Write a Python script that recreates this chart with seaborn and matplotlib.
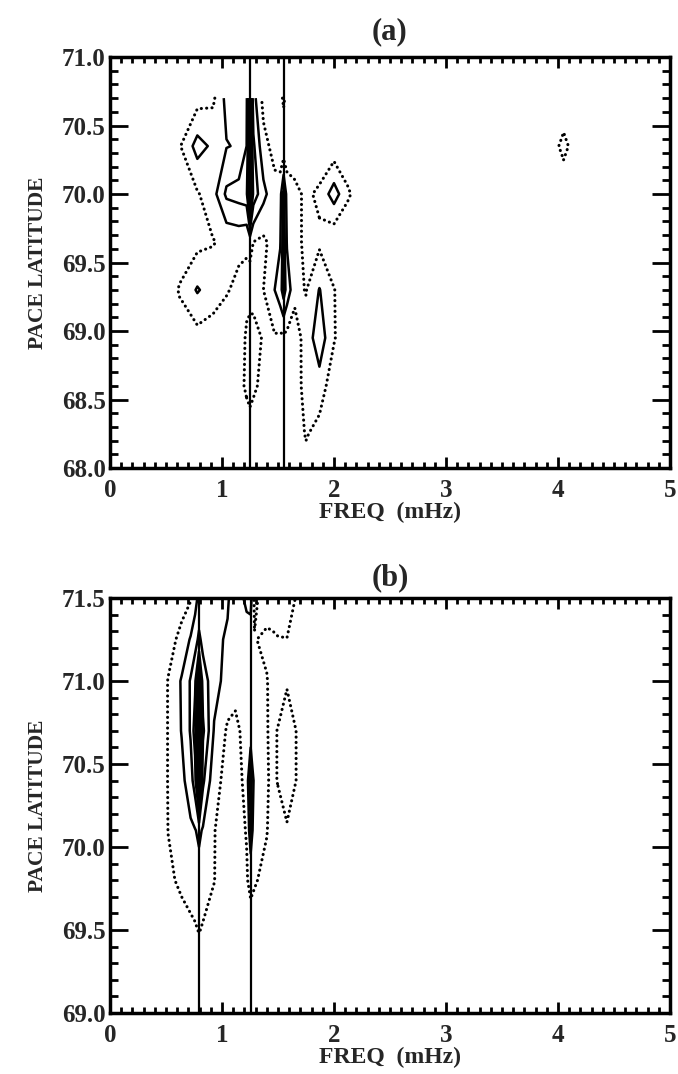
import matplotlib
matplotlib.use("Agg")
import matplotlib.pyplot as plt
import numpy as np
import seaborn as sns
from matplotlib.ticker import MultipleLocator, FormatStrFormatter

# ---- panel (a): power on a freq x latitude grid (rows = latitude) ----
freq_a = [0.0, 0.5, 0.62, 0.78, 0.92, 1.04, 1.15, 1.22, 1.25, 1.28, 1.37, 1.47, 1.52,
          1.55, 1.58, 1.65, 1.75, 1.87, 2.0, 2.12, 2.3, 3.9, 4.05, 4.2, 5.0]
lat_a = [67.9, 68.25, 68.6, 68.95, 69.3, 69.65, 70.0, 70.35, 70.7]
power_a_679 = [0, 0, 0, 0, 0, 0, 0, 0, 0, 0, 0, 0, 0, 0, 0, 0, 0.4, 0, 0, 0, 0, 0, 0, 0, 0]
power_a_6825 = [0, 0, 0, 0, 0, 0, 0, 0.4, 0.5, 0.4, 0, 0, 0, 0, 0, 0.3, 1.1, 0.6, 0, 0, 0, 0, 0, 0, 0]
power_a_686 = [0, 0, 0, 0, 0, 0, 0.6, 1.2, 1.4, 1.2, 0.7, 0.2, 0.1, 0.1, 0.1, 0.6, 1.3, 1.6, 0.3, 0, 0, 0, 0, 0, 0]
power_a_6895 = [0, 0, 0.4, 0.6, 0.5, 0.3, 0.6, 1.1, 1.3, 1.2, 0.95, 0.9, 0.8, 0.8, 0.7, 0.5, 1.4, 2.6, 1.1, 0.1, 0, 0, 0, 0, 0]
power_a_693 = [0, 0.2, 1.1, 2.1, 1.5, 1.1, 0.7, 0.8, 0.7, 0.8, 1.0, 2.0, 2.6, 3.5, 2.6, 1.3, 0.95, 2.05, 1.05, 0.2, 0, 0, 0, 0, 0]
power_a_6965 = [0, 0, 0.3, 0.7, 0.95, 1.2, 1.3, 1.1, 1.2, 1.0, 0.8, 1.4, 1.9, 3.6, 1.9, 1.6, 0.6, 0.8, 0.1, 0, 0, 0, 0, 0, 0]
power_a_700 = [0, 0, 0.3, 0.9, 1.6, 3.2, 3.4, 3.6, 8.0, 3.6, 2.3, 1.3, 1.6, 3.2, 1.6, 1.3, 0.8, 1.2, 2.5, 1.2, 0, 0, 0, 0, 0]
power_a_7035 = [0, 0, 0.9, 2.4, 1.8, 1.95, 2.1, 3.0, 6.0, 3.2, 1.3, 0.7, 0.3, 0.2, 0.3, 0.3, 0.1, 0.2, 0.3, 0.1, 0, 0, 1.4, 0, 0]
power_a_707 = [0, 0, 0.3, 0.6, 0.8, 2.3, 2.6, 2.8, 5.5, 2.4, 0.7, 0.3, 0.6, 1.2, 0.6, 0.2, 0, 0, 0, 0, 0, 0, 0, 0, 0]
power_a = [power_a_679, power_a_6825, power_a_686, power_a_6895, power_a_693,
           power_a_6965, power_a_700, power_a_7035, power_a_707]
lines_a = [1.25, 1.55]

# ---- panel (b) ----
freq_b = [0.0, 0.4, 0.52, 0.64, 0.72, 0.76, 0.795, 0.83, 0.93, 1.05, 1.12, 1.22, 1.256,
          1.29, 1.4, 1.45, 1.5, 1.58, 1.67, 1.8, 5.0]
lat_b = [68.9, 69.2, 69.5, 69.8, 70.1, 70.4, 70.7, 71.0, 71.25, 71.5]
power_b_689 = [0] * 21
power_b_692 = [0, 0, 0, 0.1, 0.15, 0.2, 0.2, 0.15, 0.1, 0, 0, 0, 0.1, 0, 0, 0, 0, 0, 0, 0, 0]
power_b_695 = [0, 0, 0.2, 0.6, 0.8, 0.9, 1.05, 0.9, 0.7, 0.2, 0.2, 0.3, 0.5, 0.5, 0.2, 0, 0, 0, 0, 0, 0]
power_b_698 = [0, 0, 0.8, 1.2, 1.4, 1.5, 1.6, 1.5, 1.02, 0.5, 0.5, 0.9, 1.3, 1.1, 0.7, 0.3, 0.3, 0.2, 0.1, 0, 0]
power_b_701 = [0, 0, 1.02, 1.4, 1.8, 1.95, 2.2, 1.9, 1.03, 0.6, 0.6, 1.05, 2.6, 1.4, 1.05, 0.6, 0.6, 0.9, 0.4, 0, 0]
power_b_704 = [0, 0, 1.05, 1.7, 2.6, 3.5, 7.5, 3.2, 1.3, 0.7, 0.7, 1.2, 3.6, 1.5, 1.1, 0.8, 1.05, 1.5, 0.95, 0, 0]
power_b_707 = [0, 0, 1.05, 2.05, 3.1, 4.5, 8.0, 4.2, 1.9, 0.85, 0.8, 1.3, 1.2, 1.5, 1.05, 0.8, 1.05, 1.5, 0.95, 0, 0]
power_b_710 = [0, 0, 1.05, 2.1, 3.1, 3.8, 6.0, 3.5, 2.4, 1.6, 1.3, 1.4, 1.5, 1.3, 1.05, 0.7, 0.5, 0.9, 0.4, 0, 0]
power_b_7125 = [0, 0.1, 0.6, 1.3, 2.1, 2.6, 3.2, 2.7, 2.2, 1.9, 1.6, 1.6, 1.4, 1.05, 0.8, 0.85, 0.95, 0.98, 0.5, 0, 0]
power_b_715 = [0, 0.2, 0.3, 0.6, 0.9, 1.6, 2.3, 2.2, 2.1, 2.1, 1.5, 2.2, 2.4, 0.8, 1.5, 1.55, 1.6, 1.5, 0.9, 0, 0]
power_b = [power_b_689, power_b_692, power_b_695, power_b_698, power_b_701,
           power_b_704, power_b_707, power_b_710, power_b_7125, power_b_715]
lines_b = [0.795, 1.256]

dotted_levels = [1]
solid_levels = [2, 3, 4, 5, 6, 7]

sns.set_theme(style="ticks")
plt.rcParams["font.family"] = ["Liberation Serif", "DejaVu Serif"]
plt.rcParams["font.weight"] = "bold"
plt.rcParams["axes.labelweight"] = "bold"
plt.rcParams["axes.titleweight"] = "bold"


def draw_panel(ax, freq, lat, power, lines, ylim, title, title_pad):
    z = np.array(power)
    # lowest level drawn as round dots
    cs = ax.contour(freq, lat, z, levels=dotted_levels, colors="black",
                    linewidths=2.2, linestyles=[(0, (0.05, 1.7))])
    cs.set_capstyle("round")
    ax.contour(freq, lat, z, levels=solid_levels, colors="black",
               linewidths=1.8, linestyles="solid")
    for f in lines:
        ax.axvline(f, color="black", lw=1.6)

    ax.set_xlim(0, 5)
    ax.set_ylim(*ylim)
    ax.xaxis.set_major_locator(MultipleLocator(1))
    ax.xaxis.set_minor_locator(MultipleLocator(0.1))
    ax.yaxis.set_major_locator(MultipleLocator(0.5))
    ax.yaxis.set_minor_locator(MultipleLocator(0.1))
    ax.xaxis.set_major_formatter(FormatStrFormatter("%d"))
    ax.yaxis.set_major_formatter(FormatStrFormatter("%.1f"))
    ax.tick_params(which="both", direction="in", top=True, right=True,
                   width=2, color="black", labelsize=18)
    ax.tick_params(axis="x", which="major", length=8, pad=8)
    ax.tick_params(axis="x", which="minor", length=4)
    ax.tick_params(axis="y", which="major", length=13, pad=3)
    ax.tick_params(axis="y", which="minor", length=6)
    for s in ax.spines.values():
        s.set_linewidth(2.5)
        s.set_color("black")
    ax.set_xlabel("FREQ  (mHz)", fontsize=17, labelpad=0)
    ax.set_ylabel("PACE LATITUDE", fontsize=15.5, labelpad=10)
    ax.set_title(title, fontsize=22, pad=title_pad)


fig = plt.figure(figsize=(6.78, 10.74), dpi=100)
ax_a = fig.add_axes([0.1622, 0.5642, 0.826, 0.3827])
ax_b = fig.add_axes([0.1622, 0.0568, 0.826, 0.3864])

draw_panel(ax_a, freq_a, lat_a, power_a, lines_a, (68.0, 71.0), "(a)", 13)
draw_panel(ax_b, freq_b, lat_b, power_b, lines_b, (69.0, 71.5), "(b)", 9)

fig.savefig("out.png", dpi=100)
